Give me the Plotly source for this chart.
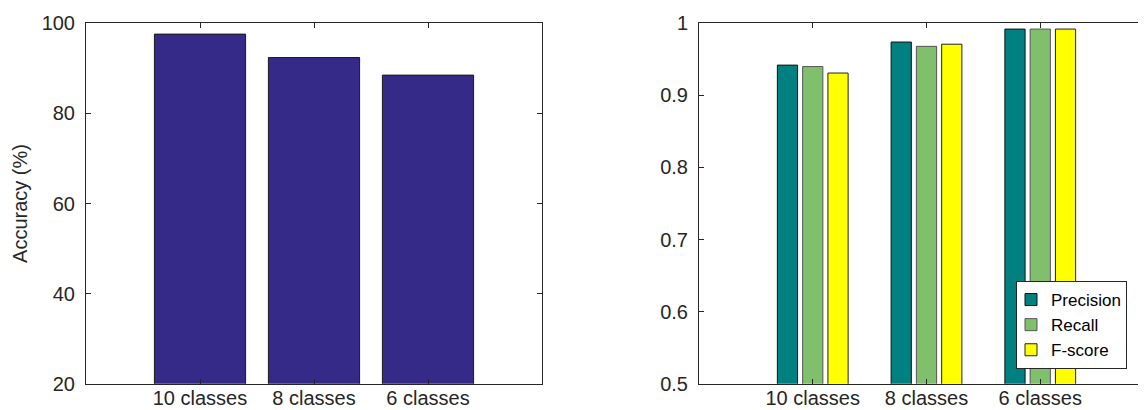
import plotly.graph_objects as go

categories = ["10 classes", "8 classes", "6 classes"]
accuracy = [97.6, 92.4, 88.5]
precision = [0.942, 0.974, 0.992]
recall = [0.940, 0.968, 0.992]
fscore = [0.931, 0.971, 0.992]
acc_ticks = [20, 40, 60, 80, 100]
metric_ticks = [0.5, 0.6, 0.7, 0.8, 0.9, 1.0]
metric_ticklabels = ["0.5", "0.6", "0.7", "0.8", "0.9", "1"]

TXT = "#262626"
FONT = "Liberation Sans, Arial, Helvetica, sans-serif"
FS = 20

fig = go.Figure()
fig.add_trace(go.Bar(x=categories, y=accuracy, width=0.8, marker=dict(color="#352a87", line=dict(color="#1a1a1a", width=1)),
                     showlegend=False, xaxis="x", yaxis="y"))
fig.add_trace(go.Bar(x=categories, y=precision, name="Precision", marker=dict(color="#008080", line=dict(color="#111111", width=1)),
                     xaxis="x2", yaxis="y2"))
fig.add_trace(go.Bar(x=categories, y=recall, name="Recall", marker=dict(color="#80c06c", line=dict(color="#555555", width=1)),
                     xaxis="x2", yaxis="y2"))
fig.add_trace(go.Bar(x=categories, y=fscore, name="F-score", marker=dict(color="#ffff00", line=dict(color="#222222", width=1)),
                     xaxis="x2", yaxis="y2"))

common_x = dict(range=[-1, 3], showline=True, mirror="ticks", linecolor=TXT, linewidth=1,
                ticks="inside", ticklen=5, tickcolor=TXT, showgrid=False, zeroline=False,
                tickfont=dict(family=FONT, size=FS, color=TXT), automargin=False, fixedrange=True,
                ticklabelstandoff=-4)
common_y = dict(showline=True, mirror="ticks", linecolor=TXT, linewidth=1,
                ticks="inside", ticklen=5, tickcolor=TXT, showgrid=False, zeroline=False,
                tickfont=dict(family=FONT, size=FS, color=TXT), automargin=False, ticklabelstandoff=6)

ydom = [(410 - 375.7) / 410, (410 - 15.3) / 410]
fig.update_layout(
    width=1146, height=410,
    margin=dict(l=0, r=0, t=0, b=0),
    paper_bgcolor="white", plot_bgcolor="white",
    barmode="group", bargap=1/3, bargroupgap=0.2,
    xaxis=dict(domain=[78/1146, 534/1146], anchor="y", **common_x),
    yaxis=dict(domain=ydom, anchor="x", range=[20, 100], tickvals=acc_ticks,
               title=dict(text="Accuracy (%)", font=dict(family=FONT, size=FS, color=TXT), standoff=8), **common_y),
    xaxis2=dict(domain=[691/1146, 1.0], anchor="y2", **common_x),
    yaxis2=dict(domain=ydom, anchor="x2", range=[0.5, 1.0], tickvals=metric_ticks, ticktext=metric_ticklabels, **common_y),
    legend=dict(x=1008/1146, y=(410-273)/410, xanchor="left", yanchor="top",
                bordercolor=TXT, borderwidth=1, bgcolor="white",
                font=dict(family=FONT, size=17, color="black"), itemwidth=30, tracegroupgap=0,
                indentation=-6),
    font=dict(family=FONT, color=TXT),
)

fig.write_html("out.html")
